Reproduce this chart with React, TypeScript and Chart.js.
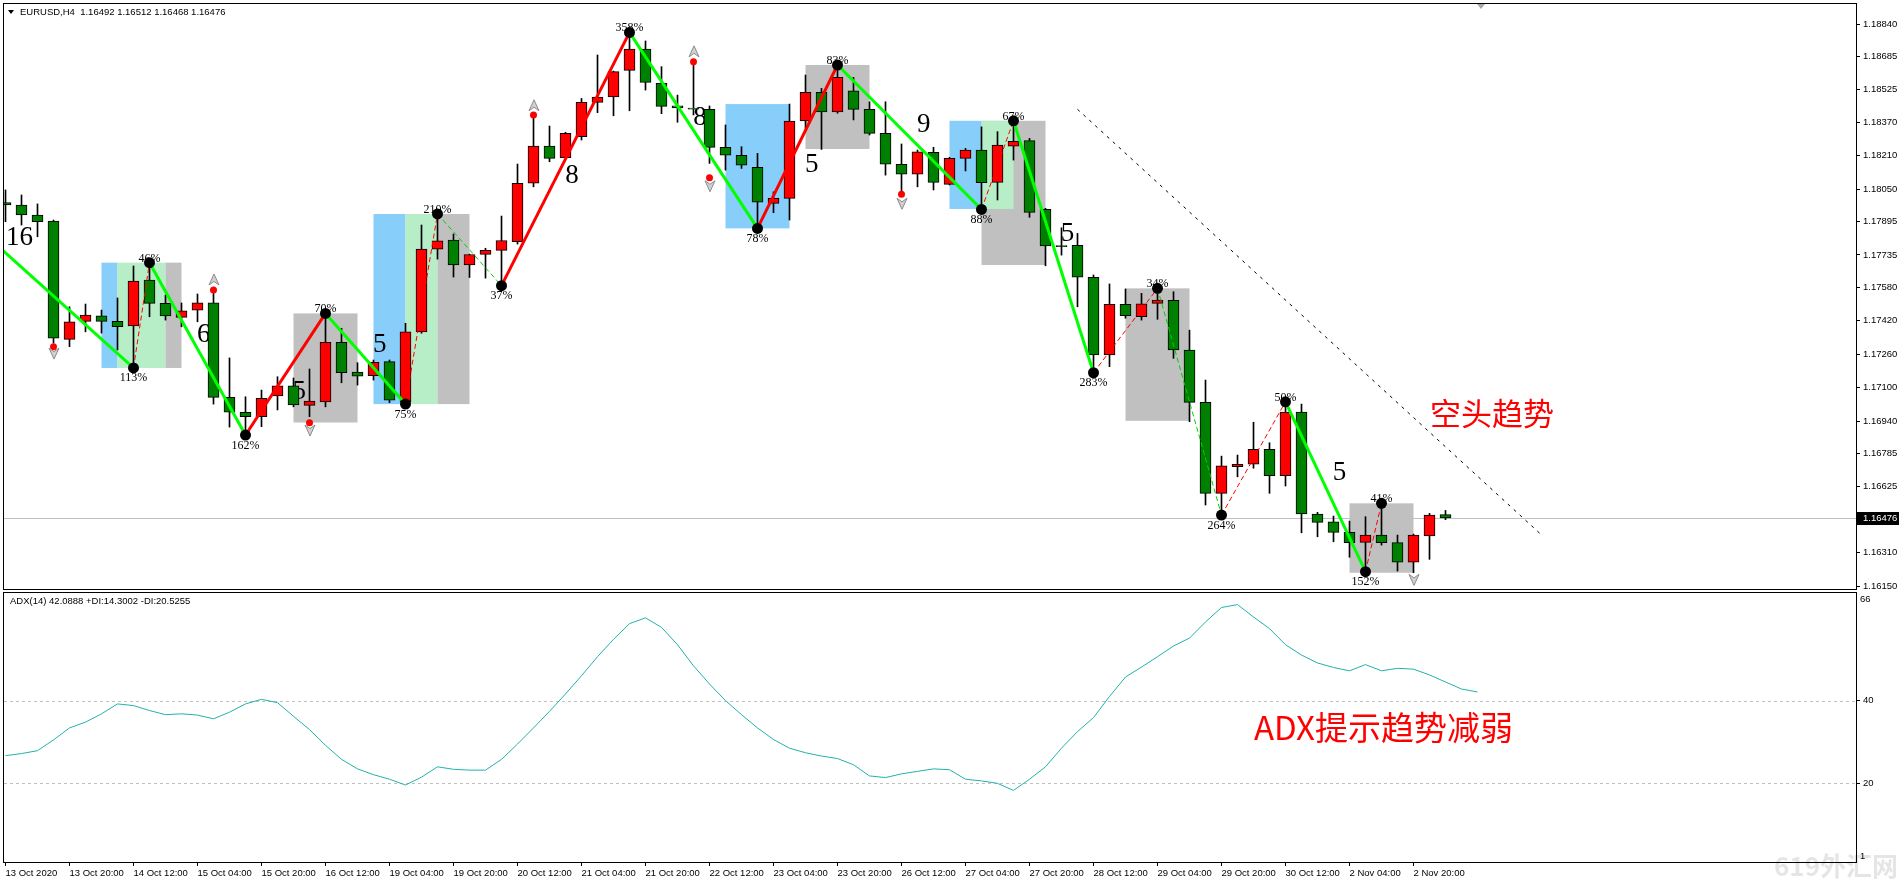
import React, { useEffect, useRef } from 'react';
import { Chart, registerables } from 'chart.js';

Chart.register(...registerables);

// ------------------------------------------------------------------ data
const symbolHeader = 'EURUSD,H4  1.16492 1.16512 1.16468 1.16476';
const adxHeader = 'ADX(14) 42.0888 +DI:14.3002 -DI:20.5255';

const opens = [
  1.17985, 1.17974, 1.17926, 1.17897, 1.17331, 1.17417, 1.17443, 1.17417, 1.17395, 1.17615,
  1.17503, 1.17436, 1.17471, 1.17506, 1.17053, 1.16982, 1.16961, 1.1706, 1.17108, 1.17015,
  1.17032, 1.17317, 1.17174, 1.17157, 1.17224, 1.17032, 1.17367, 1.17762, 1.17806, 1.17687,
  1.17738, 1.17757, 1.17798, 1.18078, 1.18256, 1.182, 1.18301, 1.18465, 1.18491, 1.18618,
  1.1872, 1.18556, 1.18449, 1.18438, 1.18432, 1.1825, 1.18212, 1.18154, 1.17982, 1.18006,
  1.18376, 1.18513, 1.1842, 1.18521, 1.18432, 1.18317, 1.18169, 1.18121, 1.18226, 1.18073,
  1.18197, 1.18237, 1.18082, 1.18256, 1.18282, 1.17953, 1.1778, 1.17781, 1.17628, 1.17256,
  1.17499, 1.17439, 1.17503, 1.17518, 1.1728, 1.17029, 1.16594, 1.16721, 1.16733, 1.16805,
  1.16678, 1.16983, 1.16495, 1.16458, 1.16407, 1.16359, 1.16394, 1.16358, 1.16264, 1.1639,
  1.16492,
];
const highs = [
  1.18046, 1.18022, 1.17979, 1.17902, 1.17487, 1.175, 1.17471, 1.17529, 1.17682, 1.17698,
  1.17543, 1.17505, 1.17548, 1.17553, 1.17242, 1.17056, 1.17088, 1.17152, 1.17146, 1.17189,
  1.17455, 1.17384, 1.17219, 1.17232, 1.17232, 1.17408, 1.17878, 1.17931, 1.17835, 1.17739,
  1.17767, 1.17921, 1.1817, 1.18389, 1.18352, 1.18322, 1.18484, 1.18692, 1.18615, 1.188,
  1.18759, 1.18636, 1.185, 1.18644, 1.18448, 1.18357, 1.18253, 1.18221, 1.18037, 1.18457,
  1.18596, 1.18532, 1.18644, 1.18585, 1.18468, 1.18468, 1.18266, 1.18237, 1.1825, 1.18202,
  1.18245, 1.18348, 1.18325, 1.18377, 1.18293, 1.17958, 1.17865, 1.17838, 1.17639, 1.17596,
  1.17572, 1.17551, 1.17575, 1.17559, 1.17375, 1.17136, 1.16772, 1.16777, 1.16934, 1.16836,
  1.17032, 1.17021, 1.16503, 1.16485, 1.16461, 1.16482, 1.16546, 1.16394, 1.16399, 1.16498,
  1.16512,
];
const lows = [
  1.17894, 1.17878, 1.17822, 1.17313, 1.17296, 1.17367, 1.17361, 1.1728, 1.17194, 1.17439,
  1.17423, 1.17391, 1.17415, 1.17021, 1.16911, 1.16873, 1.16913, 1.16993, 1.17008, 1.16961,
  1.17008, 1.17123, 1.17112, 1.17136, 1.17028, 1.17021, 1.1736, 1.17715, 1.17629, 1.17627,
  1.17624, 1.17588, 1.17787, 1.18061, 1.18181, 1.18197, 1.18285, 1.18416, 1.18401, 1.18425,
  1.18524, 1.18411, 1.1837, 1.18405, 1.18173, 1.18141, 1.18149, 1.17862, 1.17937, 1.17902,
  1.18341, 1.1824, 1.18413, 1.18381, 1.18309, 1.18117, 1.1803, 1.18061, 1.18046, 1.1807,
  1.18137, 1.17953, 1.17998, 1.18189, 1.17915, 1.17683, 1.17734, 1.17487, 1.17171, 1.172,
  1.17432, 1.17423, 1.17427, 1.1724, 1.16937, 1.16538, 1.1649, 1.16673, 1.16714, 1.16594,
  1.16629, 1.16405, 1.16386, 1.16362, 1.16288, 1.16219, 1.16346, 1.16222, 1.16214, 1.16278,
  1.16468,
];
const closes = [
  1.17974, 1.17926, 1.17894, 1.17337, 1.17415, 1.17447, 1.17417, 1.17391, 1.1761, 1.17503,
  1.17443, 1.17468, 1.17506, 1.17053, 1.16982, 1.16961, 1.17049, 1.17108, 1.17017, 1.17036,
  1.17317, 1.17171, 1.17155, 1.17221, 1.1704, 1.17367, 1.17763, 1.17803, 1.17687, 1.17737,
  1.17757, 1.17804, 1.18078, 1.18256, 1.18197, 1.18317, 1.18465, 1.18491, 1.18612, 1.1872,
  1.18561, 1.18446, 1.18439, 1.18433, 1.1825, 1.18212, 1.18164, 1.17987, 1.18006, 1.18376,
  1.18513, 1.1842, 1.18585, 1.18432, 1.18317, 1.18169, 1.18121, 1.18229, 1.18082, 1.18197,
  1.18237, 1.18081, 1.18261, 1.18279, 1.17939, 1.17778, 1.17775, 1.17628, 1.17256, 1.17499,
  1.17444, 1.17501, 1.17519, 1.1728, 1.17029, 1.16594, 1.16725, 1.16733, 1.16805, 1.16678,
  1.16983, 1.16495, 1.16455, 1.16407, 1.16358, 1.16394, 1.16358, 1.16264, 1.16394, 1.1649,
  1.16476,
];

// x-axis labels, one every 4 bars starting at bar 0
const timeLabels = [
  '13 Oct 2020', '13 Oct 20:00', '14 Oct 12:00', '15 Oct 04:00', '15 Oct 20:00', '16 Oct 12:00',
  '19 Oct 04:00', '19 Oct 20:00', '20 Oct 12:00', '21 Oct 04:00', '21 Oct 20:00', '22 Oct 12:00',
  '23 Oct 04:00', '23 Oct 20:00', '26 Oct 12:00', '27 Oct 04:00', '27 Oct 20:00', '28 Oct 12:00',
  '29 Oct 04:00', '29 Oct 20:00', '30 Oct 12:00', '2 Nov 04:00', '2 Nov 20:00',
];
const labelEvery = 4;

const priceTicks = [
  1.1884, 1.18685, 1.18525, 1.1837, 1.1821, 1.1805, 1.17895, 1.17735, 1.1758,
  1.1742, 1.1726, 1.171, 1.1694, 1.16785, 1.16625, 1.1631, 1.1615,
];
const currentPrice = 1.16476;

const adxValues = [
  26.7, 27.2, 27.9, 30.5, 33.4, 34.8, 36.8, 39.2, 38.8, 37.6,
  36.6, 36.8, 36.5, 35.6, 37.2, 39.2, 40.3, 39.5, 36.2, 33.0,
  29.2, 25.8, 23.5, 22.1, 21.0, 19.6, 21.5, 24.0, 23.4, 23.2,
  23.2, 25.8, 29.5, 33.4, 37.4, 41.6, 46.0, 50.6, 54.8, 58.6,
  60.0, 57.7, 53.5, 48.4, 44.0, 40.0, 36.6, 33.4, 30.6, 28.5,
  27.4, 26.6, 26.0, 24.5, 21.8, 21.4, 22.3, 22.9, 23.5, 23.3,
  21.0, 20.6, 20.0, 18.3, 21.0, 24.0, 28.5, 32.5, 35.9, 41.0,
  45.7, 48.1, 50.6, 53.2, 55.1, 59.0, 62.5, 63.2, 60.2, 57.4,
  53.5, 51.0, 49.1, 48.0, 47.2, 48.7, 47.2, 47.8, 47.6, 46.2,
  44.5, 42.8, 42.09,
];
const adxLevels = [20, 40];
const adxMin = 1;
const adxMax = 66;

// zigzag: start point (off-chart, left) then swing points taken from highs/lows
const zigzagStart = { bar: -3, price: 1.17951 };
const zigzagSwings = [
  { bar: 8, kind: 'L', label: '113%' },
  { bar: 9, kind: 'H', label: '46%' },
  { bar: 15, kind: 'L', label: '162%' },
  { bar: 20, kind: 'H', label: '70%' },
  { bar: 25, kind: 'L', label: '75%' },
  { bar: 27, kind: 'H', label: '210%' },
  { bar: 31, kind: 'L', label: '37%' },
  { bar: 39, kind: 'H', label: '358%' },
  { bar: 47, kind: 'L', label: '78%' },
  { bar: 52, kind: 'H', label: '83%' },
  { bar: 61, kind: 'L', label: '88%' },
  { bar: 63, kind: 'H', label: '67%' },
  { bar: 68, kind: 'L', label: '283%' },
  { bar: 72, kind: 'H', label: '34%' },
  { bar: 76, kind: 'L', label: '264%' },
  { bar: 80, kind: 'H', label: '50%' },
  { bar: 85, kind: 'L', label: '152%' },
  { bar: 86, kind: 'H', label: '41%' },
];
const zigzagSegmentStyles = [
  'thickGreen', 'thinRed', 'thickGreen', 'thickRed', 'thickGreen', 'thinRed', 'thinGreen',
  'thickRed', 'thickGreen', 'thickRed', 'thickGreen', 'thinRed', 'thickGreen', 'thinRed',
  'thinGreen', 'thinRed', 'thickGreen', 'thinRed',
];

const boxes = [
  { from: 6, to: 7, top: 1.17698, bottom: 1.17194, fill: 'blue' },
  { from: 7, to: 10, top: 1.17698, bottom: 1.17194, fill: 'green' },
  { from: 10, to: 11, top: 1.17698, bottom: 1.17194, fill: 'gray' },
  { from: 18, to: 22, top: 1.17455, bottom: 1.16933, fill: 'gray' },
  { from: 23, to: 25, top: 1.17931, bottom: 1.17021, fill: 'blue' },
  { from: 25, to: 27, top: 1.17931, bottom: 1.17021, fill: 'green' },
  { from: 27, to: 29, top: 1.17931, bottom: 1.17021, fill: 'gray' },
  { from: 45, to: 49, top: 1.18457, bottom: 1.17862, fill: 'blue' },
  { from: 50, to: 54, top: 1.18644, bottom: 1.18242, fill: 'gray' },
  { from: 61, to: 65, top: 1.18377, bottom: 1.17687, fill: 'gray' },
  { from: 59, to: 61, top: 1.18377, bottom: 1.17955, fill: 'blue' },
  { from: 61, to: 63, top: 1.18377, bottom: 1.17955, fill: 'green' },
  { from: 70, to: 74, top: 1.17575, bottom: 1.16941, fill: 'gray' },
  { from: 84, to: 88, top: 1.16546, bottom: 1.16214, fill: 'gray' },
];

const countLabels = [
  { bar: 0.875, price: 1.17781, text: '16' },
  { bar: 12.39, price: 1.17317, text: '6' },
  { bar: 18.36, price: 1.17044, text: '5' },
  { bar: 23.39, price: 1.17272, text: '5' },
  { bar: 35.41, price: 1.18078, text: '8' },
  { bar: 43.41, price: 1.18357, text: '8' },
  { bar: 50.39, price: 1.1813, text: '5' },
  { bar: 57.39, price: 1.18325, text: '9' },
  { bar: 66.37, price: 1.17803, text: '5' },
  { bar: 83.37, price: 1.16658, text: '5' },
];

const upArrows = [
  { bar: 13, price: 1.17615 },
  { bar: 33, price: 1.18449 },
  { bar: 43, price: 1.18707 },
];
const downArrows = [
  { bar: 3, price: 1.17265 },
  { bar: 19, price: 1.16897 },
  { bar: 44, price: 1.18066 },
  { bar: 56, price: 1.17982 },
  { bar: 88, price: 1.16182 },
];
const redDots = [
  { bar: 3, price: 1.17296 },
  { bar: 13, price: 1.17567 },
  { bar: 19, price: 1.16932 },
  { bar: 33, price: 1.18405 },
  { bar: 43, price: 1.1866 },
  { bar: 44, price: 1.18104 },
  { bar: 56, price: 1.18025 },
];

const trendLine = [
  { bar: 67, price: 1.18432 },
  { bar: 96, price: 1.16395 },
];

const mainNote = { bar: 89.03, price: 1.16976, text: '空头趋势' };
const adxNote = { bar: 78.03, value: 33.5, text: 'ADX提示趋势减弱' };
const watermark = '619外汇网';
const chartShiftBar = 92.2;

// ------------------------------------------------------------------ styling
const X_MIN = -0.09375;
const X_MAX = 115.65625;
const Y_MIN = 1.16136;
const Y_MAX = 1.18936;
const AXIS_W = 48;
const SANS = '"Liberation Sans", Arial, sans-serif';
const SERIF = '"Liberation Serif", "Times New Roman", serif';
const CJK = '"Noto Sans CJK SC", sans-serif';
const UI_SIZE = 9.5;
const BULL = '#FF0000';
const BEAR = '#008000';
const BOX_FILL: Record<string, string> = {
  blue: 'rgb(135,206,250)',
  green: 'rgb(183,238,200)',
  gray: 'rgb(192,192,192)',
};
const SEG_STYLE: Record<string, { color: string; width: number; dash: number[] }> = {
  thickGreen: { color: '#00FF00', width: 3, dash: [] },
  thickRed: { color: '#FF0000', width: 3, dash: [] },
  thinRed: { color: '#FF0000', width: 1, dash: [5, 3] },
  thinGreen: { color: '#00D000', width: 1, dash: [5, 3] },
};

const zigzagPoints = [
  { bar: zigzagStart.bar, price: zigzagStart.price, kind: '', label: '' },
  ...zigzagSwings.map((s) => ({
    bar: s.bar,
    price: s.kind === 'H' ? highs[s.bar] : lows[s.bar],
    kind: s.kind,
    label: s.label,
  })),
];

function fixVertical(s: any) {
  s.width = AXIS_W;
  s.paddingTop = 0;
  s.paddingBottom = 0;
}

function drawFrame(ctx: CanvasRenderingContext2D, a: any) {
  ctx.save();
  ctx.strokeStyle = '#000';
  ctx.lineWidth = 1;
  ctx.setLineDash([]);
  ctx.strokeRect(a.left - 0.5, a.top - 0.5, a.right - a.left + 1, a.bottom - a.top + 1);
  ctx.restore();
}

function drawArrow(ctx: CanvasRenderingContext2D, x: number, y: number, up: boolean) {
  const d = up ? 1 : -1;
  ctx.beginPath();
  ctx.moveTo(x, y - 6 * d);
  ctx.lineTo(x + 5, y + 5 * d);
  ctx.lineTo(x, y + 1.5 * d);
  ctx.lineTo(x - 5, y + 5 * d);
  ctx.closePath();
  ctx.fillStyle = '#D0D0D0';
  ctx.fill();
  ctx.strokeStyle = '#8C8C8C';
  ctx.lineWidth = 1;
  ctx.stroke();
}

const mainPlugin = {
  id: 'mt4main',
  beforeDatasetsDraw(chart: any) {
    const { ctx, chartArea: a } = chart;
    const xs = chart.scales.x;
    const ys = chart.scales.y;
    ctx.save();
    ctx.beginPath();
    ctx.rect(a.left, a.top, a.right - a.left, a.bottom - a.top);
    ctx.clip();
    boxes.forEach((b) => {
      const x0 = xs.getPixelForValue(b.from);
      const x1 = xs.getPixelForValue(b.to);
      const y0 = ys.getPixelForValue(b.top);
      const y1 = ys.getPixelForValue(b.bottom);
      ctx.fillStyle = BOX_FILL[b.fill];
      ctx.fillRect(x0, y0, x1 - x0, y1 - y0);
    });
    const cy = Math.round(ys.getPixelForValue(currentPrice)) + 0.5;
    ctx.strokeStyle = '#C0C0C0';
    ctx.lineWidth = 1;
    ctx.beginPath();
    ctx.moveTo(a.left, cy);
    ctx.lineTo(a.right, cy);
    ctx.stroke();

    ctx.fillStyle = '#000';
    ctx.textAlign = 'center';
    ctx.textBaseline = 'alphabetic';
    ctx.font = '27px ' + SERIF;
    countLabels.forEach((c) => {
      ctx.fillText(c.text, xs.getPixelForValue(c.bar), ys.getPixelForValue(c.price));
    });
    ctx.font = '12px ' + SERIF;
    zigzagPoints.forEach((p) => {
      if (!p.label) return;
      const px = xs.getPixelForValue(p.bar);
      const py = ys.getPixelForValue(p.price);
      ctx.fillText(p.label, px, p.kind === 'H' ? py - 1 : py + 13.5);
    });
    ctx.restore();
  },
  afterDatasetsDraw(chart: any) {
    const { ctx, chartArea: a } = chart;
    const xs = chart.scales.x;
    const ys = chart.scales.y;
    ctx.save();
    ctx.beginPath();
    ctx.rect(a.left, a.top, a.right - a.left, a.bottom - a.top);
    ctx.clip();
    // dotted trend line
    ctx.strokeStyle = '#000';
    ctx.lineWidth = 1;
    ctx.setLineDash([3, 5]);
    ctx.beginPath();
    ctx.moveTo(xs.getPixelForValue(trendLine[0].bar), ys.getPixelForValue(trendLine[0].price));
    ctx.lineTo(xs.getPixelForValue(trendLine[1].bar), ys.getPixelForValue(trendLine[1].price));
    ctx.stroke();
    ctx.setLineDash([]);
    upArrows.forEach((m) => drawArrow(ctx, Math.round(xs.getPixelForValue(m.bar)), ys.getPixelForValue(m.price), true));
    downArrows.forEach((m) => drawArrow(ctx, Math.round(xs.getPixelForValue(m.bar)), ys.getPixelForValue(m.price), false));
    // annotation text
    ctx.fillStyle = '#FF0000';
    ctx.font = '31px ' + CJK;
    ctx.textAlign = 'left';
    ctx.textBaseline = 'middle';
    ctx.fillText(mainNote.text, xs.getPixelForValue(mainNote.bar), ys.getPixelForValue(mainNote.price));
    ctx.restore();
  },
  afterDraw(chart: any) {
    const { ctx, chartArea: a } = chart;
    const xs = chart.scales.x;
    const ys = chart.scales.y;
    drawFrame(ctx, a);
    ctx.save();
    // header
    ctx.fillStyle = '#000';
    ctx.beginPath();
    ctx.moveTo(8, 10);
    ctx.lineTo(14, 10);
    ctx.lineTo(11, 14);
    ctx.closePath();
    ctx.fill();
    ctx.font = UI_SIZE + 'px ' + SANS;
    ctx.textAlign = 'left';
    ctx.textBaseline = 'middle';
    ctx.fillText(symbolHeader, 20, 12.5);
    // current price label on the axis
    const cy = Math.round(ys.getPixelForValue(currentPrice));
    ctx.fillStyle = '#000';
    ctx.fillRect(a.right + 1, cy - 6, 42, 13);
    ctx.fillStyle = '#FFF';
    ctx.fillText(currentPrice.toFixed(5), a.right + 7, cy + 0.5);
    // chart shift marker
    const sx = Math.round(xs.getPixelForValue(chartShiftBar));
    ctx.fillStyle = '#A8A8A8';
    ctx.beginPath();
    ctx.moveTo(sx - 4, a.top);
    ctx.lineTo(sx + 4, a.top);
    ctx.lineTo(sx, a.top + 5);
    ctx.closePath();
    ctx.fill();
    ctx.restore();
  },
};

const adxPlugin = {
  id: 'mt4adx',
  beforeDatasetsDraw(chart: any) {
    const { ctx, chartArea: a } = chart;
    const ys = chart.scales.y;
    ctx.save();
    ctx.strokeStyle = '#C0C0C0';
    ctx.lineWidth = 1;
    ctx.setLineDash([3, 3]);
    adxLevels.forEach((lv) => {
      const y = Math.round(ys.getPixelForValue(lv)) + 0.5;
      ctx.beginPath();
      ctx.moveTo(a.left, y);
      ctx.lineTo(a.right, y);
      ctx.stroke();
    });
    ctx.restore();
  },
  afterDraw(chart: any) {
    const { ctx, chartArea: a } = chart;
    const xs = chart.scales.x;
    const ys = chart.scales.y;
    drawFrame(ctx, a);
    ctx.save();
    ctx.fillStyle = '#000';
    ctx.font = UI_SIZE + 'px ' + SANS;
    ctx.textAlign = 'left';
    ctx.textBaseline = 'middle';
    ctx.fillText(adxHeader, 10, a.top + 8);
    ctx.textBaseline = 'top';
    ctx.fillText(String(adxMax), a.right + 4, a.top + 2);
    ctx.textBaseline = 'bottom';
    ctx.fillText(String(adxMin), a.right + 4, a.bottom - 1);
    // annotation
    ctx.fillStyle = '#FF0000';
    ctx.font = '33px ' + CJK;
    ctx.textBaseline = 'middle';
    ctx.fillText(adxNote.text, xs.getPixelForValue(adxNote.bar), ys.getPixelForValue(adxNote.value));
    // watermark (canvas-local coordinates, bottom right)
    ctx.fillStyle = 'rgba(0,0,0,0.1)';
    ctx.font = 'bold 26px ' + CJK;
    ctx.textAlign = 'right';
    ctx.textBaseline = 'alphabetic';
    ctx.fillText(watermark, chart.width - 6, chart.height - 9);
    ctx.restore();
  },
};

function buildMainConfig(): any {
  const colors = opens.map((o, i) => (closes[i] > o ? BULL : BEAR));
  const segs = zigzagSegmentStyles.map((st, k) => {
    const s = SEG_STYLE[st];
    const p0 = zigzagPoints[k];
    const p1 = zigzagPoints[k + 1];
    return {
      type: 'line',
      data: [
        { x: p0.bar, y: p0.price },
        { x: p1.bar, y: p1.price },
      ],
      borderColor: s.color,
      borderWidth: s.width,
      borderDash: s.dash,
      pointRadius: 0,
      tension: 0,
      fill: false,
      order: 5,
    };
  });
  return {
    type: 'bar',
    data: {
      datasets: [
        {
          type: 'bar',
          data: highs.map((h, i) => ({ x: i, y: [lows[i], h] })),
          backgroundColor: '#000',
          borderWidth: 0,
          barThickness: 1,
          grouped: false,
          order: 10,
        },
        {
          type: 'bar',
          data: opens.map((o, i) => ({ x: i, y: [o, closes[i]] })),
          backgroundColor: colors,
          borderColor: '#000',
          borderWidth: 1,
          borderSkipped: false,
          barThickness: 11,
          minBarLength: 1,
          grouped: false,
          order: 9,
        },
        ...segs,
        {
          type: 'scatter',
          data: zigzagPoints.slice(1).map((p) => ({ x: p.bar, y: p.price })),
          pointRadius: 5.5,
          pointBackgroundColor: '#000',
          pointBorderWidth: 0,
          order: 4,
        },
        {
          type: 'scatter',
          data: redDots.map((p) => ({ x: p.bar, y: p.price })),
          pointRadius: 3.5,
          pointBackgroundColor: '#FF0000',
          pointBorderWidth: 0,
          order: 3,
        },
      ],
    },
    options: {
      responsive: false,
      animation: false,
      events: [],
      layout: { autoPadding: false, padding: { left: 4, top: 4, right: 0, bottom: 1 } },
      plugins: { legend: { display: false }, tooltip: { enabled: false } },
      scales: {
        x: {
          type: 'linear',
          display: false,
          min: X_MIN,
          max: X_MAX,
          offset: false,
          afterFit: (s: any) => {
            s.height = 0;
            s.paddingLeft = 0;
            s.paddingRight = 0;
          },
        },
        y: {
          type: 'linear',
          position: 'right',
          min: Y_MIN,
          max: Y_MAX,
          afterBuildTicks: (s: any) => {
            s.ticks = priceTicks.map((v) => ({ value: v }));
          },
          afterFit: fixVertical,
          ticks: {
            autoSkip: false,
            callback: (v: any) => Number(v).toFixed(5),
            font: { family: SANS, size: UI_SIZE },
            color: '#000',
            padding: 3,
          },
          grid: { drawOnChartArea: false, drawTicks: true, tickLength: 4, color: '#000' },
          border: { display: false },
        },
      },
    },
    plugins: [mainPlugin],
  };
}

function buildAdxConfig(): any {
  return {
    type: 'line',
    data: {
      datasets: [
        {
          data: adxValues.map((v, i) => ({ x: i, y: v })),
          borderColor: '#20B2AA',
          borderWidth: 1,
          pointRadius: 0,
          tension: 0,
          fill: false,
        },
      ],
    },
    options: {
      responsive: false,
      animation: false,
      events: [],
      layout: { autoPadding: false, padding: { left: 4, top: 3, right: 0, bottom: 0 } },
      plugins: { legend: { display: false }, tooltip: { enabled: false } },
      scales: {
        x: {
          type: 'linear',
          min: X_MIN,
          max: X_MAX,
          offset: false,
          afterBuildTicks: (s: any) => {
            s.ticks = timeLabels.map((_, k) => ({ value: k * labelEvery }));
          },
          afterFit: (s: any) => {
            s.height = 23;
            s.paddingLeft = 0;
            s.paddingRight = 0;
          },
          ticks: {
            autoSkip: false,
            maxRotation: 0,
            minRotation: 0,
            align: 'start',
            callback: (v: any) => timeLabels[Math.round(Number(v) / labelEvery)] ?? '',
            font: { family: SANS, size: UI_SIZE },
            color: '#000',
            padding: 2,
          },
          grid: { drawOnChartArea: false, drawTicks: true, tickLength: 4, color: '#000' },
          border: { display: false },
        },
        y: {
          type: 'linear',
          position: 'right',
          min: adxMin,
          max: adxMax,
          afterBuildTicks: (s: any) => {
            s.ticks = adxLevels.map((v) => ({ value: v }));
          },
          afterFit: fixVertical,
          ticks: {
            autoSkip: false,
            callback: (v: any) => String(v),
            font: { family: SANS, size: UI_SIZE },
            color: '#000',
            padding: 3,
          },
          grid: { drawOnChartArea: false, drawTicks: true, tickLength: 4, color: '#000' },
          border: { display: false },
        },
      },
    },
    plugins: [adxPlugin],
  };
}

export default function App() {
  const mainRef = useRef<HTMLCanvasElement>(null);
  const adxRef = useRef<HTMLCanvasElement>(null);
  useEffect(() => {
    const c1 = new Chart(mainRef.current as HTMLCanvasElement, buildMainConfig());
    const c2 = new Chart(adxRef.current as HTMLCanvasElement, buildAdxConfig());
    return () => {
      c1.destroy();
      c2.destroy();
    };
  }, []);
  return (
    <div
      style={{
        position: 'fixed',
        left: 0,
        top: 0,
        width: 1904,
        height: 885,
        background: '#FFFFFF',
        overflow: 'hidden',
      }}
    >
      <canvas
        ref={mainRef}
        width={1904}
        height={590}
        style={{ position: 'absolute', left: 0, top: 0, width: 1904, height: 590 }}
      />
      <canvas
        ref={adxRef}
        width={1904}
        height={295}
        style={{ position: 'absolute', left: 0, top: 590, width: 1904, height: 295 }}
      />
    </div>
  );
}
